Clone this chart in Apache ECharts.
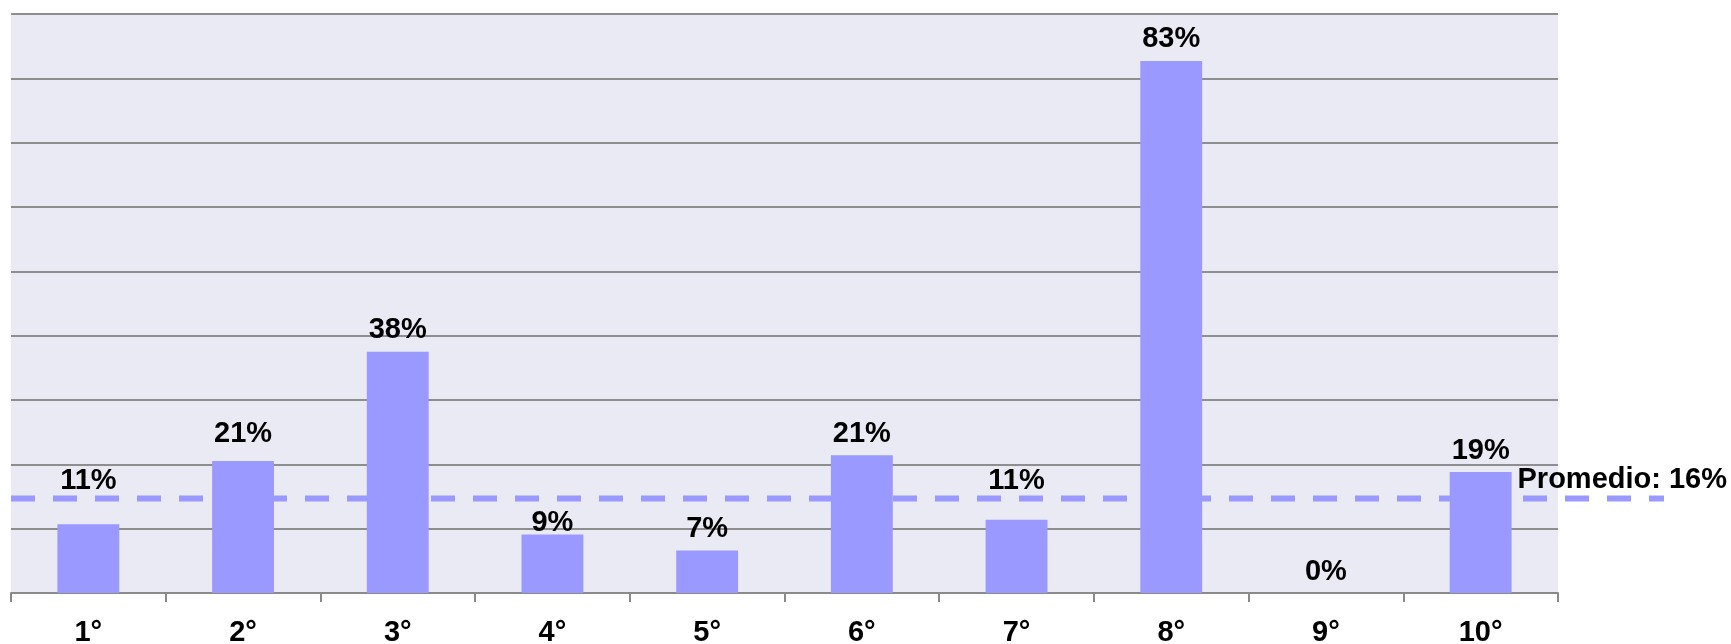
<!DOCTYPE html>
<html>
<head>
<meta charset="utf-8">
<script src="https://cdn.jsdelivr.net/npm/echarts@6/dist/echarts.min.js"></script>
<style>
html,body{margin:0;padding:0;background:#fff;}
#c{width:1731px;height:644px;}
</style>
</head>
<body>
<div id="c"></div>
<script>
// ---- data ----
const categories = ['1°','2°','3°','4°','5°','6°','7°','8°','9°','10°'];
const values = [10.7, 20.5, 37.5, 9.1, 6.6, 21.4, 11.4, 82.7, 0, 18.8];
const yTicks = {min: 0, max: 90, interval: 10};
const avgLineValue = 14.7;
const avgText = 'Promedio: 16%';

// ---- layout / style ----
const W = 1731, H = 644;
const G = {left: 11, right: 173, top: 14, bottom: 51};
const plotH = H - G.top - G.bottom;
const FONT = '"Liberation Sans", Arial, sans-serif';
const FS = 29;
const BAR = '#9999ff';
const toPx = v => G.top + plotH * (1 - (v - yTicks.min) / (yTicks.max - yTicks.min));
const avgPx = toPx(avgLineValue);
const LABEL_GAP = 23; // label center above bar top
const extraLabelShift = {1: -6}; // fine nudge for one label (pixels)

const barData = values.map((v, i) => {
  const center = toPx(v) - LABEL_GAP;
  let dy = 0;
  if (Math.abs(center - avgPx) < 17) {
    if (center - avgPx > 10) dy = (avgPx + 23) - center;
    else dy = (avgPx - 19) - center;
  }
  dy += (extraLabelShift[i] || 0);
  return {value: v, label: {offset: [0, dy]}};
});

const chart = echarts.init(document.getElementById('c'), null, {renderer: 'canvas'});
chart.setOption({
  animation: false,
  backgroundColor: '#ffffff',
  grid: [
    {left: G.left, right: G.right, top: G.top, bottom: G.bottom, show: true,
     backgroundColor: '#eaeaf4', borderWidth: 0, containLabel: false, outerBoundsMode: 'none'},
    {left: G.left, right: 67, top: G.top, bottom: G.bottom, show: false, containLabel: false, outerBoundsMode: 'none'}
  ],
  xAxis: [
    {type: 'category', gridIndex: 0, data: categories, boundaryGap: true,
     axisLine: {show: true, lineStyle: {color: '#8a8a8a', width: 2}},
     axisTick: {show: true, length: 9, alignWithLabel: false, lineStyle: {color: '#8a8a8a', width: 2}},
     axisLabel: {margin: 25, fontFamily: FONT, fontSize: FS, fontWeight: 'bold', color: '#000'},
     splitLine: {show: false}},
    {type: 'value', gridIndex: 1, min: 0, max: 1, show: false}
  ],
  yAxis: [
    {type: 'value', gridIndex: 0, min: yTicks.min, max: yTicks.max, interval: yTicks.interval,
     axisLine: {show: false}, axisTick: {show: false}, axisLabel: {show: false},
     splitLine: {show: true, lineStyle: {color: '#8e8e8e', width: 2}}},
    {type: 'value', gridIndex: 1, min: yTicks.min, max: yTicks.max, show: false, splitLine: {show: false}}
  ],
  series: [
    {
      type: 'line', xAxisIndex: 1, yAxisIndex: 1, z: 2,
      symbol: 'circle', symbolSize: 2, showSymbol: true, silent: true,
      itemStyle: {color: 'rgba(0,0,0,0)', borderWidth: 0},
      lineStyle: {color: BAR, width: 6, type: [24, 18], cap: 'butt'},
      label: {show: false},
      data: [
        {value: [0, avgLineValue]},
        {value: [1, avgLineValue], label: {
          show: true, position: 'top', align: 'right', distance: 3, offset: [63, 0],
          formatter: avgText, fontFamily: FONT, fontSize: FS, fontWeight: 'bold', color: '#000'}}
      ]
    },
    {
      type: 'bar', xAxisIndex: 0, yAxisIndex: 0, z: 3,
      barWidth: '40%',
      itemStyle: {color: BAR},
      label: {show: true, position: 'top', distance: 7,
        formatter: p => Math.round(p.value) + '%',
        fontFamily: FONT, fontSize: FS, fontWeight: 'bold', color: '#000'},
      data: barData
    }
  ]
});
</script>
</body>
</html>
